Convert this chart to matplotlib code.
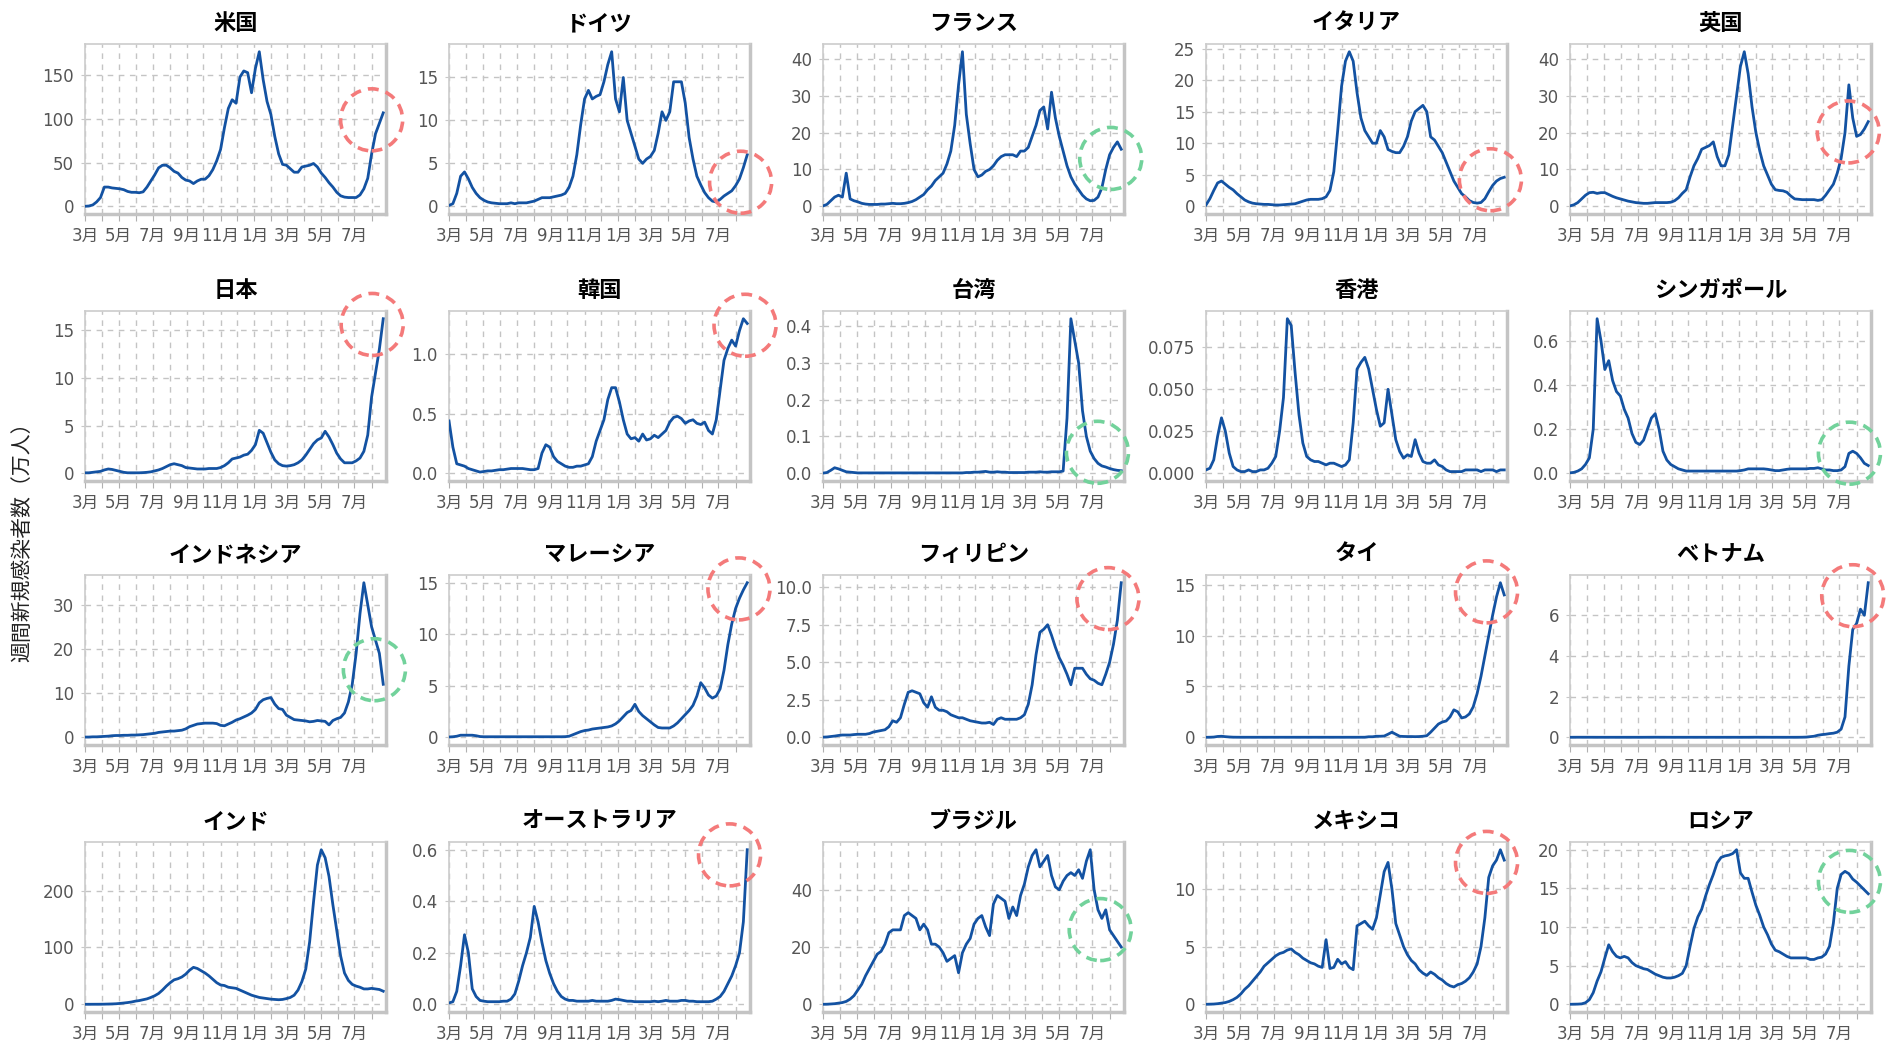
import numpy as np
import pandas as pd
import matplotlib
matplotlib.use('Agg')
import matplotlib.pyplot as plt
import matplotlib.dates as mdates
import matplotlib.transforms as mtransforms
from matplotlib.patches import Circle
from matplotlib.ticker import MultipleLocator, FixedLocator, FixedFormatter

plt.rcParams['font.family'] = ['DejaVu Sans', 'Noto Sans CJK JP']

# 週次データ (万人), 2020-03-01 から7日ごと
us = [0, 0.3, 1.5, 5, 10, 22, 22, 21, 20.5, 20,
      19, 17, 16, 16, 15.5, 16.5, 22, 29, 36, 44,
      47, 47, 44, 40, 38, 33, 30, 29, 26, 29,
      31, 31, 35, 42, 52, 65, 90, 112, 122, 118,
      148, 155, 153, 130, 158, 177, 145, 120, 105, 80,
      60, 48, 47, 43, 39, 39, 45, 46, 47, 49,
      45, 38, 33, 27, 22, 16, 12, 10.5, 10, 10,
      10, 13, 20, 32, 60, 83, 95, 107]
germany = [0.1, 0.3, 1.5, 3.5, 4.0, 3.2, 2.2, 1.5, 1.0, 0.7,
           0.5, 0.4, 0.35, 0.3, 0.3, 0.3, 0.4, 0.3, 0.4, 0.4,
           0.4, 0.5, 0.6, 0.8, 1.0, 1.0, 1.0, 1.1, 1.2, 1.3,
           1.5, 2.2, 3.5, 6.0, 9.5, 12.5, 13.5, 12.5, 12.8, 13.0,
           14.5, 16.5, 18.0, 12.5, 11.0, 15.0, 10.0, 8.5, 7.0, 5.5,
           5.0, 5.5, 5.8, 6.5, 8.5, 11.0, 10.0, 11.0, 14.5, 14.5,
           14.5, 12.0, 8.0, 5.5, 3.5, 2.5, 1.6, 1.0, 0.6, 0.5,
           0.8, 1.2, 1.5, 1.8, 2.4, 3.2, 4.5, 6.0]
france = [0.1, 0.5, 1.5, 2.5, 3.0, 2.5, 9.0, 2.0, 1.5, 1.2,
          0.8, 0.6, 0.5, 0.5, 0.5, 0.6, 0.6, 0.7, 0.8, 0.7,
          0.7, 0.8, 1.0, 1.3, 1.8, 2.5, 3.2, 4.5, 5.5, 7.0,
          8.0, 9.0, 11.5, 15.0, 22.0, 33.0, 42.0, 25.0, 17.0, 10.0,
          8.0, 8.5, 9.5, 10.0, 11.0, 12.5, 13.5, 14.0, 14.0, 14.0,
          13.5, 15.0, 15.0, 16.0, 19.0, 22.0, 26.0, 27.0, 21.0, 31.0,
          24.0, 19.0, 15.0, 11.0, 8.0, 6.0, 4.5, 3.0, 2.0, 1.5,
          1.6, 2.5, 5.0, 10.0, 14.0, 16.0, 17.5, 15.5]
italy = [0.2, 1.2, 2.5, 3.7, 4.0, 3.5, 3.0, 2.6, 2.0, 1.5,
         1.0, 0.7, 0.5, 0.4, 0.35, 0.3, 0.3, 0.25, 0.2, 0.2,
         0.25, 0.3, 0.35, 0.4, 0.6, 0.8, 1.0, 1.1, 1.1, 1.1,
         1.2, 1.5, 2.5, 5.5, 12.0, 19.0, 23.0, 24.5, 23.0, 18.0,
         14.0, 12.0, 11.0, 10.0, 10.0, 12.0, 11.0, 9.0, 8.7, 8.5,
         8.5, 9.5, 11.0, 13.5, 15.0, 15.5, 16.0, 15.0, 11.0, 10.5,
         9.5, 8.5, 7.0, 5.5, 4.0, 3.0, 2.0, 1.5, 0.9, 0.6,
         0.5, 0.6, 1.2, 2.3, 3.3, 4.0, 4.4, 4.6]
uk = [0.1, 0.4, 1.0, 2.0, 3.0, 3.7, 3.8, 3.5, 3.7, 3.7,
      3.2, 2.7, 2.3, 2.0, 1.7, 1.4, 1.2, 1.0, 0.9, 0.8,
      0.8, 0.9, 1.0, 1.0, 1.0, 1.0, 1.1, 1.5, 2.3, 3.5,
      4.5, 8.0, 11.0, 13.0, 15.5, 16.0, 16.5, 17.5, 13.5, 11.0,
      11.0, 14.0, 22.0, 30.0, 38.0, 42.0, 36.0, 27.0, 20.0, 15.0,
      11.0, 8.5, 6.0, 4.5, 4.3, 4.2, 3.8, 2.8, 2.0, 1.9,
      1.8, 1.8, 1.8, 1.8, 1.6, 1.8, 3.0, 4.5, 6.0, 9.0,
      13.0, 20.0, 33.0, 24.0, 19.0, 19.5, 21.0, 23.0]
japan = [0.05, 0.05, 0.1, 0.15, 0.2, 0.35, 0.45, 0.4, 0.3, 0.2,
         0.1, 0.05, 0.05, 0.05, 0.05, 0.07, 0.1, 0.15, 0.25, 0.35,
         0.5, 0.7, 0.9, 1.0, 0.9, 0.8, 0.6, 0.55, 0.5, 0.45,
         0.45, 0.45, 0.5, 0.5, 0.5, 0.6, 0.8, 1.1, 1.5, 1.6,
         1.7, 1.9, 2.0, 2.4, 3.0, 4.5, 4.2, 3.2, 2.2, 1.4,
         1.0, 0.8, 0.75, 0.8, 0.9, 1.1, 1.4, 1.9, 2.5, 3.1,
         3.5, 3.7, 4.4, 3.8, 3.0, 2.1, 1.5, 1.1, 1.1, 1.1,
         1.3, 1.6, 2.3, 4.0, 8.0, 10.5, 13.0, 16.2]
korea = [0.44, 0.22, 0.08, 0.07, 0.06, 0.04, 0.03, 0.02, 0.01, 0.015,
         0.02, 0.02, 0.025, 0.03, 0.03, 0.035, 0.04, 0.04, 0.04, 0.04,
         0.035, 0.03, 0.03, 0.04, 0.17, 0.24, 0.22, 0.14, 0.1, 0.08,
         0.06, 0.05, 0.05, 0.06, 0.06, 0.07, 0.08, 0.14, 0.27, 0.36,
         0.45, 0.62, 0.72, 0.72, 0.6, 0.45, 0.33, 0.29, 0.3, 0.27,
         0.33, 0.28, 0.29, 0.32, 0.3, 0.33, 0.36, 0.43, 0.47, 0.48,
         0.46, 0.42, 0.44, 0.45, 0.42, 0.41, 0.43, 0.36, 0.33, 0.45,
         0.7, 0.95, 1.05, 1.12, 1.07, 1.2, 1.3, 1.26]
taiwan = [0.0005, 0.002, 0.008, 0.015, 0.012, 0.008, 0.004, 0.003, 0.002, 0.001,
          0.001, 0.001, 0.001, 0.001, 0.001, 0.001, 0.001, 0.001, 0.001, 0.001,
          0.001, 0.001, 0.001, 0.001, 0.001, 0.001, 0.001, 0.001, 0.001, 0.001,
          0.001, 0.001, 0.001, 0.001, 0.001, 0.001, 0.001, 0.002, 0.002, 0.003,
          0.003, 0.004, 0.005, 0.003, 0.003, 0.004, 0.003, 0.003, 0.002, 0.002,
          0.002, 0.002, 0.002, 0.003, 0.003, 0.003, 0.004, 0.003, 0.003, 0.004,
          0.004, 0.004, 0.006, 0.15, 0.42, 0.36, 0.3, 0.17, 0.1, 0.06,
          0.04, 0.027, 0.02, 0.017, 0.013, 0.01, 0.008, 0.007]
hongkong = [0.002, 0.003, 0.008, 0.022, 0.033, 0.025, 0.012, 0.004, 0.002, 0.001,
            0.001, 0.002, 0.001, 0.001, 0.002, 0.002, 0.003, 0.006, 0.01, 0.025,
            0.045, 0.092, 0.088, 0.06, 0.035, 0.018, 0.01, 0.008, 0.007, 0.007,
            0.006, 0.005, 0.006, 0.006, 0.005, 0.004, 0.005, 0.008, 0.03, 0.062,
            0.066, 0.069, 0.062, 0.05, 0.038, 0.028, 0.03, 0.05, 0.035, 0.02,
            0.013, 0.009, 0.011, 0.01, 0.02, 0.012, 0.007, 0.006, 0.006, 0.008,
            0.005, 0.004, 0.002, 0.001, 0.001, 0.001, 0.001, 0.002, 0.002, 0.002,
            0.002, 0.001, 0.002, 0.002, 0.002, 0.001, 0.002, 0.002]
singapore = [0.002, 0.004, 0.01, 0.02, 0.04, 0.07, 0.2, 0.7, 0.6, 0.47,
             0.51, 0.42, 0.37, 0.35, 0.29, 0.25, 0.18, 0.14, 0.13, 0.15,
             0.2, 0.25, 0.27, 0.2, 0.1, 0.06, 0.04, 0.03, 0.02, 0.015,
             0.01, 0.01, 0.01, 0.01, 0.01, 0.01, 0.01, 0.01, 0.01, 0.01,
             0.01, 0.01, 0.01, 0.01, 0.012, 0.015, 0.02, 0.02, 0.02, 0.02,
             0.02, 0.018, 0.015, 0.012, 0.012, 0.015, 0.018, 0.02, 0.02, 0.02,
             0.02, 0.02, 0.022, 0.022, 0.025, 0.02, 0.015, 0.015, 0.012, 0.012,
             0.015, 0.03, 0.09, 0.1, 0.09, 0.07, 0.045, 0.035]
indonesia = [0.05, 0.05, 0.1, 0.1, 0.15, 0.2, 0.25, 0.35, 0.4, 0.4,
             0.45, 0.45, 0.5, 0.5, 0.55, 0.6, 0.7, 0.8, 0.9, 1.1,
             1.2, 1.3, 1.4, 1.4, 1.5, 1.6, 1.9, 2.4, 2.7, 3.0,
             3.1, 3.2, 3.2, 3.2, 3.1, 2.7, 2.6, 3.0, 3.4, 3.9,
             4.2, 4.6, 5.0, 5.5, 6.3, 7.8, 8.5, 8.8, 9.0, 7.5,
             6.5, 6.3, 5.0, 4.5, 4.0, 3.9, 3.8, 3.7, 3.5, 3.6,
             3.8, 3.7, 3.6, 2.8, 3.8, 4.2, 4.5, 5.5, 8.0, 12.0,
             19.0, 28.0, 35.0, 30.0, 25.0, 22.0, 19.0, 12.0]
malaysia = [0.03, 0.05, 0.1, 0.2, 0.2, 0.2, 0.2, 0.15, 0.07, 0.05,
            0.05, 0.05, 0.05, 0.05, 0.05, 0.05, 0.05, 0.05, 0.05, 0.05,
            0.05, 0.05, 0.05, 0.05, 0.05, 0.05, 0.05, 0.05, 0.05, 0.05,
            0.06, 0.1, 0.25, 0.4, 0.55, 0.65, 0.7, 0.8, 0.85, 0.9,
            0.95, 1.0, 1.1, 1.3, 1.6, 2.0, 2.4, 2.6, 3.2, 2.5,
            2.1, 1.8, 1.5, 1.2, 0.95, 0.9, 0.9, 0.9, 1.1, 1.4,
            1.8, 2.2, 2.6, 3.1, 4.0, 5.3, 4.8, 4.1, 3.8, 4.0,
            4.7, 6.5, 9.0, 11.0, 12.5, 13.5, 14.3, 15.0]
philippines = [0.01, 0.02, 0.05, 0.08, 0.12, 0.15, 0.15, 0.15, 0.18, 0.2,
               0.2, 0.2, 0.25, 0.35, 0.4, 0.45, 0.5, 0.7, 1.1, 1.0,
               1.3, 2.2, 3.0, 3.1, 3.0, 2.9, 2.3, 2.0, 2.7, 2.0,
               1.8, 1.8, 1.7, 1.5, 1.4, 1.3, 1.3, 1.2, 1.1, 1.05,
               1.0, 0.95, 0.95, 1.0, 0.85, 1.2, 1.3, 1.2, 1.2, 1.2,
               1.2, 1.3, 1.5, 2.2, 3.5, 5.5, 7.0, 7.2, 7.5, 6.8,
               6.0, 5.3, 4.8, 4.2, 3.5, 4.6, 4.6, 4.6, 4.2, 3.9,
               3.8, 3.6, 3.5, 4.2, 5.0, 6.2, 7.8, 10.3]
thailand = [0.0, 0.005, 0.02, 0.08, 0.1, 0.06, 0.03, 0.01, 0.005, 0.003,
            0.002, 0.002, 0.002, 0.002, 0.002, 0.002, 0.002, 0.002, 0.002, 0.002,
            0.002, 0.002, 0.002, 0.002, 0.002, 0.002, 0.002, 0.002, 0.002, 0.002,
            0.002, 0.002, 0.002, 0.002, 0.002, 0.002, 0.002, 0.002, 0.002, 0.002,
            0.003, 0.005, 0.05, 0.05, 0.1, 0.1, 0.12, 0.3, 0.5, 0.3,
            0.1, 0.08, 0.07, 0.07, 0.06, 0.07, 0.1, 0.15, 0.5, 0.9,
            1.3, 1.5, 1.6, 2.0, 2.7, 2.5, 1.9, 2.0, 2.3, 3.0,
            4.3, 6.0, 8.0, 10.0, 12.0, 13.8, 15.2, 14.0]
vietnam = [0, 0.001, 0.002, 0.002, 0.002, 0.001, 0.001, 0, 0, 0,
           0, 0, 0, 0, 0, 0, 0, 0, 0, 0,
           0.001, 0.002, 0.003, 0.002, 0.002, 0.001, 0.001, 0, 0, 0,
           0, 0, 0, 0, 0, 0, 0, 0, 0, 0,
           0, 0, 0, 0, 0, 0, 0, 0.002, 0.003, 0.002,
           0.002, 0.001, 0.001, 0.001, 0, 0, 0, 0, 0, 0.001,
           0.003, 0.01, 0.03, 0.05, 0.1, 0.13, 0.15, 0.18, 0.2, 0.25,
           0.4, 1.0, 3.5, 5.3, 5.6, 6.3, 6.0, 7.6]
india = [0, 0, 0.02, 0.05, 0.1, 0.2, 0.4, 0.6, 0.9, 1.5,
         2.2, 3.0, 4.0, 5.5, 6.5, 8.0, 9.5, 12, 15, 19,
         25, 32, 38, 43, 45, 48, 53, 60, 65, 63,
         59, 55, 50, 44, 38, 34, 33, 30, 29, 28,
         25, 22, 19, 16, 14, 12, 11, 10, 9, 8.5,
         8, 8.5, 10, 12, 16, 25, 40, 62, 110, 180,
         245, 272, 258, 225, 175, 130, 85, 55, 42, 35,
         32, 30, 27, 27, 28, 27, 26, 23]
australia = [0.005, 0.01, 0.05, 0.15, 0.27, 0.2, 0.06, 0.03, 0.015, 0.012,
             0.01, 0.01, 0.01, 0.01, 0.012, 0.012, 0.02, 0.04, 0.09, 0.15,
             0.2, 0.26, 0.38, 0.32, 0.24, 0.17, 0.12, 0.08, 0.05, 0.03,
             0.02, 0.015, 0.015, 0.012, 0.012, 0.012, 0.012, 0.015, 0.012, 0.012,
             0.012, 0.012, 0.015, 0.02, 0.018, 0.015, 0.012, 0.012, 0.01, 0.01,
             0.01, 0.01, 0.01, 0.012, 0.01, 0.012, 0.015, 0.012, 0.012, 0.012,
             0.015, 0.015, 0.012, 0.012, 0.01, 0.01, 0.01, 0.01, 0.012, 0.02,
             0.03, 0.05, 0.08, 0.11, 0.15, 0.2, 0.32, 0.6]
brazil = [0, 0.02, 0.1, 0.2, 0.4, 0.6, 1.0, 1.8, 3, 5,
          7, 10, 12.5, 15, 17.5, 18.5, 21, 25, 26, 26,
          26, 31, 32, 31, 30, 26, 28, 26, 21, 21,
          20, 18, 15, 16, 17, 11, 18, 21, 23, 28,
          30, 31, 27, 24, 35, 38, 37, 36, 30, 34,
          31, 38, 42, 48, 52, 54, 48, 50, 52, 45,
          41, 40, 43, 45, 46, 45, 47, 44, 50, 54,
          40, 33, 30, 33, 26, 24, 22, 20]
mexico = [0, 0.01, 0.02, 0.05, 0.1, 0.15, 0.25, 0.4, 0.6, 0.9,
          1.3, 1.6, 2.0, 2.4, 2.8, 3.3, 3.6, 3.9, 4.2, 4.4,
          4.5, 4.7, 4.8, 4.5, 4.3, 4.0, 3.8, 3.6, 3.5, 3.3,
          3.2, 5.6, 3.1, 3.2, 3.9, 3.5, 3.7, 3.2, 3.0, 6.8,
          7.0, 7.2, 6.8, 6.5, 7.5, 9.5, 11.5, 12.3, 10.0, 7.0,
          6.0, 5.0, 4.3, 3.8, 3.5, 3.0, 2.7, 2.5, 2.8, 2.6,
          2.3, 2.1, 1.8, 1.6, 1.5, 1.7, 1.8, 2.0, 2.3, 2.8,
          3.5, 5.0, 7.5, 11.0, 12.0, 12.5, 13.4, 12.5]
russia = [0, 0.01, 0.02, 0.05, 0.2, 0.6, 1.5, 3.0, 4.2, 6.0,
          7.7, 6.8, 6.2, 6.0, 6.2, 6.0, 5.4, 5.0, 4.8, 4.6,
          4.5, 4.2, 3.9, 3.7, 3.5, 3.4, 3.4, 3.5, 3.7, 4.0,
          5.0, 7.5, 9.8, 11.3, 12.3, 14.0, 15.5, 16.8, 18.3, 19.0,
          19.2, 19.3, 19.5, 20.0, 17.0, 16.3, 16.3, 14.5, 12.8, 11.5,
          10.0, 9.0, 7.8, 7.0, 6.8, 6.5, 6.2, 6.0, 6.0, 6.0,
          6.0, 6.0, 5.8, 5.8, 6.0, 6.1, 6.5, 7.5, 10.5, 15.0,
          16.8, 17.2, 16.9, 16.2, 15.8, 15.3, 14.8, 14.3]

countries = ['米国', 'ドイツ', 'フランス', 'イタリア', '英国',
             '日本', '韓国', '台湾', '香港', 'シンガポール',
             'インドネシア', 'マレーシア', 'フィリピン', 'タイ', 'ベトナム',
             'インド', 'オーストラリア', 'ブラジル', 'メキシコ', 'ロシア']
series = [us, germany, france, italy, uk,
          japan, korea, taiwan, hongkong, singapore,
          indonesia, malaysia, philippines, thailand, vietnam,
          india, australia, brazil, mexico, russia]
ystep = [50, 5, 10, 5, 10,
         5, 0.5, 0.1, 0.025, 0.2,
         10, 5, 2.5, 5, 2,
         100, 0.2, 20, 5, 5]

# 注目マーク (日付, 値, 色)
RED = '#f47a7a'
GREEN = '#72d29b'
marks = {
    '米国': ('2021-08-01', 99, RED),
    'ドイツ': ('2021-08-10', 2.8, RED),
    'フランス': ('2021-08-03', 13, GREEN),
    'イタリア': ('2021-07-28', 4.2, RED),
    '英国': ('2021-07-17', 20.2, RED),
    '日本': ('2021-08-02', 15.6, RED),
    '韓国': ('2021-08-18', 1.245, RED),
    '台湾': ('2021-07-10', 0.057, GREEN),
    'シンガポール': ('2021-07-19', 0.091, GREEN),
    'インドネシア': ('2021-08-06', 15.3, GREEN),
    'マレーシア': ('2021-08-07', 14.4, RED),
    'フィリピン': ('2021-07-29', 9.24, RED),
    'タイ': ('2021-07-21', 14.3, RED),
    'ベトナム': ('2021-07-25', 6.96, RED),
    'オーストラリア': ('2021-07-21', 0.58, RED),
    'ブラジル': ('2021-07-15', 26.1, GREEN),
    'メキシコ': ('2021-07-21', 12.3, RED),
    'ロシア': ('2021-07-19', 15.9, GREEN),
}

months = pd.date_range('2020-03-01', '2021-08-01', freq='MS')
month_labels = [f'{m.month}月' if i % 2 == 0 else '' for i, m in enumerate(months)]

W, H = 1890, 1045
fig = plt.figure(figsize=(W / 100, H / 100), dpi=100)
lefts = [85, 449, 823, 1206, 1570]
tops = [44, 311, 575, 842]
aw, ah = 301, 170

for i, (name, vals) in enumerate(zip(countries, series)):
    r, c = divmod(i, 5)
    ax = fig.add_axes([lefts[c] / W, (H - tops[r] - ah) / H, aw / W, ah / H])
    d = pd.date_range('2020-03-01', periods=len(vals), freq='7D')
    ax.plot(d, vals, color='#1352a2', lw=2.0, zorder=3)

    m = max(vals)
    ax.set_ylim(-0.05 * m, 1.05 * m)
    ax.set_xlim(pd.Timestamp('2020-03-01'), pd.Timestamp('2021-08-27'))
    ax.xaxis.set_major_locator(FixedLocator(mdates.date2num(months)))
    ax.xaxis.set_major_formatter(FixedFormatter(month_labels))
    ax.yaxis.set_major_locator(MultipleLocator(ystep[i]))

    ax.grid(True, color='#c4c4c4', lw=1.0, ls=(0, (4, 4)))
    ax.tick_params(axis='x', length=5, color='#b0b0b0', labelsize=12,
                   labelcolor='#555555', pad=4)
    ax.tick_params(axis='y', length=3, color='#c8c8c8', labelsize=12,
                   labelcolor='#555555', pad=5)
    for s in ['top', 'left']:
        ax.spines[s].set_color('#cccccc')
        ax.spines[s].set_linewidth(1.2)
    for s in ['bottom', 'right']:
        ax.spines[s].set_color('#c4c4c4')
        ax.spines[s].set_linewidth(2.5)

    ax.set_title(name, fontsize=16, fontweight='bold', family='Noto Sans CJK JP',
                 pad=10)

    if name in marks:
        md, mv, col = marks[name]
        trans = fig.dpi_scale_trans + mtransforms.ScaledTranslation(
            mdates.date2num(pd.Timestamp(md)), mv, ax.transData)
        circ = Circle((0, 0), 0.31, transform=trans, fill=False, ec=col,
                      lw=2.6, ls=(0, (3, 2)), clip_on=False, zorder=5)
        ax.add_artist(circ)

fig.text(0.012, 0.486, '週間新規感染者数（万人）', rotation=90, va='center', ha='center',
         fontsize=15, family='Noto Sans CJK JP', color='#222222')

plt.savefig('out.png', dpi=100)
plt.close()
